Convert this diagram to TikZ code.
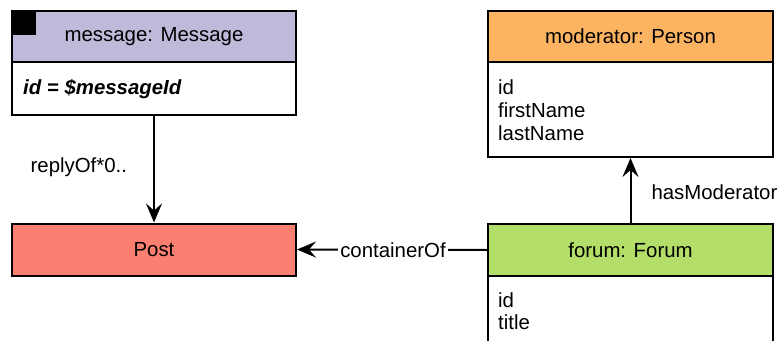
\documentclass[tikz,border=0pt]{standalone}
\usepackage{fontspec}
\setmainfont{Liberation Sans}
\usetikzlibrary{arrows.meta}
\definecolor{lav}{HTML}{BEBADA}
\definecolor{orng}{HTML}{FDB462}
\definecolor{grn}{HTML}{B3DE69}
\definecolor{slmn}{HTML}{FB8072}
\tikzset{
  box/.style={draw=black, line width=2pt, minimum width=284pt, inner sep=0pt, font=\fontsize{20.4}{23}\selectfont},
  txt/.style={inner sep=0pt, anchor=west, align=left, font=\fontsize{20.4}{23}\selectfont},
  lbl/.style={inner sep=2pt, fill=white, font=\fontsize{20.4}{23}\selectfont},
  arr/.style={line width=2pt, -{Stealth[length=19pt,width=16pt,inset=7pt]}}
}
\begin{document}
\begin{tikzpicture}[x=1pt,y=-1pt]
\useasboundingbox (0,0) rectangle (781,340);
\clip (0,0) rectangle (781,340);
\fill[white] (0,0) rectangle (781,340);
% message
\node[box, fill=lav, minimum height=51pt] (msgh) at (154,36.5) {message: Message};
\node[box, fill=white, minimum height=53pt] (msgb) at (154,88.5) {};
\node[fill=black, minimum size=24pt, inner sep=0pt, anchor=north west] (msgicon) at (12,11) {};
\node[txt, font=\fontsize{20.4}{23}\selectfont\bfseries\itshape] (msgid) at (23,89) {id = \$messageId};
% post
\node[box, fill=slmn, minimum height=52pt] (post) at (154,249.5) {Post};
% moderator
\node[box, fill=orng, minimum width=285pt, minimum height=51pt] (modh) at (630.5,36.5) {moderator: Person};
\node[box, fill=white, minimum width=285pt, minimum height=95pt] (modb) at (630.5,109.5) {};
\node[txt] (modt1) at (498,87) {id};
\node[txt] (modt2) at (498,110) {firstName};
\node[txt] (modt3) at (498,133) {lastName};
% forum
\node[box, fill=grn, minimum width=285pt, minimum height=52pt] (forumh) at (630.5,250) {forum: Forum};
\node[box, fill=white, minimum width=285pt, minimum height=100pt] (forumb) at (630.5,326) {};
\node[txt] (fort1) at (498,300) {id};
\node[txt] (fort2) at (498,322) {title};
% connectors
\draw[arr] (msgb.south) -- node[lbl, left=24pt, fill=none, yshift=2pt] (l1) {replyOf*0..} (post.north);
\draw[arr] (forumh.north) -- node[lbl, right=18pt, fill=none, yshift=-2pt] (l2) {hasModerator} (modb.south);
\draw[arr] (forumh.west) -- node[lbl, xshift=1pt] (l3) {containerOf} (post.east);
\end{tikzpicture}
\end{document}
